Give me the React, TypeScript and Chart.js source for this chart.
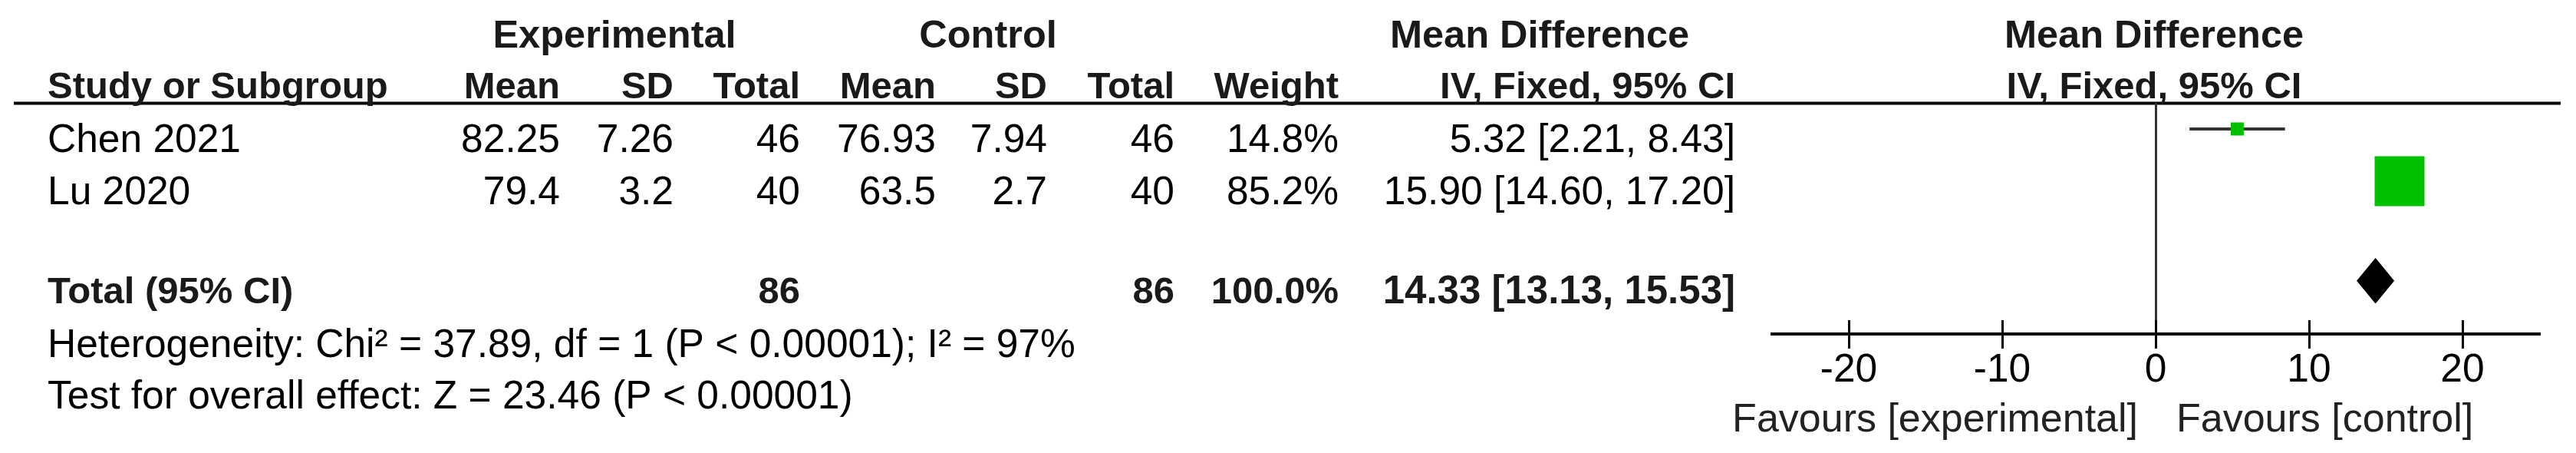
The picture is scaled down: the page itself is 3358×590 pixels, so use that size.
import React, { useEffect, useRef } from "react";
import { Chart, registerables } from "chart.js";

Chart.register(...registerables);

// ---------- data ----------
const studies = ["Chen 2021", "Lu 2020"];
const expMean = [82.25, 79.4];
const expSD = [7.26, 3.2];
const expTotal = [46, 40];
const ctrlMean = [76.93, 63.5];
const ctrlSD = [7.94, 2.7];
const ctrlTotal = [46, 40];
const weights = [14.8, 85.2];
const meanDiff = [5.32, 15.9];
const ciLow = [2.21, 14.6];
const ciHigh = [8.43, 17.2];

const totalLabel = "Total (95% CI)";
const totalExp = 86;
const totalCtrl = 86;
const totalWeight = 100.0;
const totalMD = 14.33;
const totalLow = 13.13;
const totalHigh = 15.53;

const heterogeneityText = "Heterogeneity: Chi\u00B2 = 37.89, df = 1 (P < 0.00001); I\u00B2 = 97%";
const overallText = "Test for overall effect: Z = 23.46 (P < 0.00001)";

const xTicks = [-20, -10, 0, 10, 20];
const xMin = -25;
const xMax = 25;
const favoursLeft = "Favours [experimental]";
const favoursRight = "Favours [control]";

// ---------- styles ----------
const FONT = '"Liberation Sans", Arial, Helvetica, sans-serif';
const FS_REG = 51.5;
const FS_BOLD = 49;
const FS_GROUP = 50.5;
const FS_TOTAL_CI = 51;
const FS_TICK = 51.5;
const FS_FAV = 52;
const GREEN = "#00C000";

const fmtCI = (m: number, lo: number, hi: number) =>
  `${m.toFixed(2)} [${lo.toFixed(2)}, ${hi.toFixed(2)}]`;

export default function App() {
  const ref = useRef<HTMLCanvasElement>(null);

  useEffect(() => {
    const canvas = ref.current;
    if (!canvas) return;

    const rowOf = (i: number) => i + 0.5;
    const totalRow = studies.length + 1.41;
    const diamondHalf = 0.43;
    const squareSide = (w: number) => 6.9 + 0.682 * w;

    const col = {
      name: 62,
      expMean: 730,
      expSD: 878,
      expTotal: 1043,
      ctrlMean: 1220,
      ctrlSD: 1365,
      ctrlTotal: 1531,
      weight: 1745,
      ci: 2262,
    };

    const tablePlugin = {
      id: "forestTable",
      beforeDatasetsDraw(chart: any) {
        const { ctx, chartArea, scales } = chart;
        const xs = scales.x;
        ctx.save();
        // header rule
        ctx.strokeStyle = "#000";
        ctx.lineWidth = 4;
        ctx.beginPath();
        ctx.moveTo(18, chartArea.top + 0.5);
        ctx.lineTo(3338, chartArea.top + 0.5);
        ctx.stroke();
        // line of no effect
        const x0 = Math.round(xs.getPixelForValue(0)) + 0.5;
        ctx.strokeStyle = "#333";
        ctx.lineWidth = 3;
        ctx.beginPath();
        ctx.moveTo(x0, chartArea.top);
        ctx.lineTo(x0, chartArea.bottom);
        ctx.stroke();
        // upper halves of tick marks
        ctx.strokeStyle = "#000";
        for (const t of xTicks) {
          const px = Math.round(xs.getPixelForValue(t)) + 0.5;
          ctx.beginPath();
          ctx.moveTo(px, chartArea.bottom - 18);
          ctx.lineTo(px, chartArea.bottom);
          ctx.stroke();
        }
        ctx.restore();
      },
      afterDraw(chart: any) {
        const { ctx, chartArea, scales } = chart;
        const xs = scales.x;
        const ys = scales.y;
        const top = chartArea.top;
        ctx.save();
        const txt = (
          s: string,
          x: number,
          y: number,
          align: CanvasTextAlign,
          bold = false,
          color = "#000",
          size?: number
        ) => {
          const fs = size ?? (bold ? FS_BOLD : FS_REG);
          ctx.font = `${bold ? "bold " : ""}${fs}px ${FONT}`;
          ctx.fillStyle = color;
          ctx.textAlign = align;
          ctx.textBaseline = "alphabetic";
          ctx.fillText(s, x, y);
        };
        const hb = "#1a1a1a";
        // group headers
        const gy = top - 72;
        txt("Experimental", 801, gy, "center", true, hb, FS_GROUP);
        txt("Control", 1288, gy, "center", true, hb, FS_GROUP);
        txt("Mean Difference", 2007, gy, "center", true, hb, FS_GROUP);
        const zx = xs.getPixelForValue(0) - 2;
        txt("Mean Difference", zx, gy, "center", true, hb, FS_GROUP);
        // column headers
        const hy = top - 6;
        txt("Study or Subgroup", col.name, hy, "left", true, hb);
        txt("Mean", col.expMean, hy, "right", true, hb);
        txt("SD", col.expSD, hy, "right", true, hb);
        txt("Total", col.expTotal, hy, "right", true, hb);
        txt("Mean", col.ctrlMean, hy, "right", true, hb);
        txt("SD", col.ctrlSD, hy, "right", true, hb);
        txt("Total", col.ctrlTotal, hy, "right", true, hb);
        txt("Weight", col.weight, hy, "right", true, hb);
        txt("IV, Fixed, 95% CI", col.ci, hy, "right", true, hb);
        txt("IV, Fixed, 95% CI", zx, hy, "center", true, hb);
        // study rows
        studies.forEach((s, i) => {
          const by = ys.getPixelForValue(rowOf(i)) + 30;
          txt(s, col.name, by, "left");
          txt(String(expMean[i]), col.expMean, by, "right");
          txt(String(expSD[i]), col.expSD, by, "right");
          txt(String(expTotal[i]), col.expTotal, by, "right");
          txt(String(ctrlMean[i]), col.ctrlMean, by, "right");
          txt(String(ctrlSD[i]), col.ctrlSD, by, "right");
          txt(String(ctrlTotal[i]), col.ctrlTotal, by, "right");
          txt(`${weights[i].toFixed(1)}%`, col.weight, by, "right");
          txt(fmtCI(meanDiff[i], ciLow[i], ciHigh[i]), col.ci, by, "right");
        });
        // total row
        const ty = ys.getPixelForValue(totalRow) + 29;
        txt(totalLabel, col.name, ty, "left", true, hb);
        txt(String(totalExp), col.expTotal, ty, "right", true, hb);
        txt(String(totalCtrl), col.ctrlTotal, ty, "right", true, hb);
        txt(`${totalWeight.toFixed(1)}%`, col.weight, ty, "right", true, hb);
        txt(fmtCI(totalMD, totalLow, totalHigh), col.ci, ty, "right", true, hb, FS_TOTAL_CI);
        // footer
        txt(heterogeneityText, col.name, ty + 70, "left");
        txt(overallText, col.name, ty + 137, "left");
        // favours
        const fy = chartArea.bottom + 127;
        const z0 = xs.getPixelForValue(0);
        txt(favoursLeft, z0 - 23, fy, "right", false, "#222", FS_FAV);
        txt(favoursRight, z0 + 27, fy, "left", false, "#222", FS_FAV);
        ctx.restore();
      },
    };

    const diamond = [
      { x: totalLow, y: totalRow },
      { x: totalMD, y: totalRow - diamondHalf },
      { x: totalHigh, y: totalRow },
      { x: totalMD, y: totalRow + diamondHalf },
      { x: totalLow, y: totalRow },
    ];

    const chart = new Chart(canvas, {
      type: "line",
      data: {
        datasets: [
          {
            type: "scatter",
            label: "Study estimate",
            data: meanDiff.map((m, i) => ({ x: m, y: rowOf(i) })),
            pointStyle: "rect",
            pointRadius: weights.map((w) => squareSide(w) / Math.SQRT2),
            pointHoverRadius: weights.map((w) => squareSide(w) / Math.SQRT2),
            backgroundColor: GREEN,
            borderColor: GREEN,
            borderWidth: 0,
          } as any,
          ...studies.map((s, i) => ({
            type: "line",
            label: `${s} CI`,
            data: [
              { x: ciLow[i], y: rowOf(i) },
              { x: ciHigh[i], y: rowOf(i) },
            ],
            borderColor: "#333",
            borderWidth: 4,
            pointRadius: 0,
            fill: false,
          })),
          {
            type: "line",
            label: "Total",
            data: diamond,
            borderColor: "#000",
            backgroundColor: "#000",
            borderWidth: 1,
            pointRadius: 0,
            tension: 0,
            fill: "shape",
          } as any,
        ],
      },
      options: {
        responsive: false,
        animation: false,
        events: [],
        layout: { padding: { left: 2310, right: 48, top: 134, bottom: 78.5 } },
        plugins: { legend: { display: false }, tooltip: { enabled: false } },
        scales: {
          x: {
            type: "linear",
            min: xMin,
            max: xMax,
            afterBuildTicks: (s: any) => {
              s.ticks = xTicks.map((v) => ({ value: v }));
            },
            ticks: {
              font: { family: FONT, size: FS_TICK, lineHeight: 1 },
              color: "#000",
              padding: 3,
              autoSkip: false,
              maxRotation: 0,
              callback: (v: any) => String(v),
            },
            grid: {
              display: true,
              drawOnChartArea: false,
              drawTicks: true,
              tickLength: 19,
              lineWidth: 3,
              color: "#000",
            },
            border: { display: true, width: 4, color: "#000" },
          },
          y: {
            type: "linear",
            display: false,
            min: 0,
            max: 4.43,
            reverse: true,
          },
        },
      } as any,
      plugins: [tablePlugin],
    });

    return () => chart.destroy();
  }, []);

  return (
    <div style={{ position: "absolute", left: 0, top: 0, width: 3358, height: 590, background: "#fff" }}>
      <canvas ref={ref} width={3358} height={590} style={{ display: "block" }} />
    </div>
  );
}
